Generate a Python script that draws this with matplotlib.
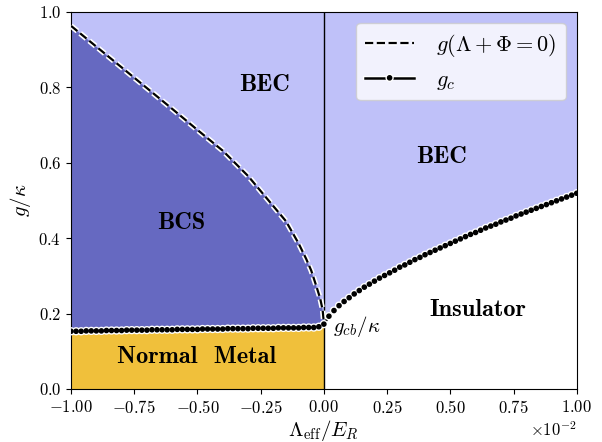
import numpy as np
import matplotlib
matplotlib.use("Agg")
import matplotlib.pyplot as plt
import matplotlib.patheffects as pe

plt.rcParams["font.family"] = "serif"
plt.rcParams["font.serif"] = ["cmr10"]
plt.rcParams["mathtext.fontset"] = "cm"
plt.rcParams["axes.formatter.use_mathtext"] = True

# critical coupling g_c on a grid Lambda_eff/E_R in [-1, 1] (x 1e-2)
gc_x = np.linspace(-1.0, 1.0, 101) * 1e-2
gc_left = [0.153, 0.153, 0.153, 0.154, 0.154, 0.154, 0.154, 0.155, 0.155, 0.155,
           0.155, 0.156, 0.156, 0.156, 0.156, 0.156, 0.157, 0.157, 0.157, 0.157,
           0.157, 0.158, 0.158, 0.158, 0.158, 0.158, 0.159, 0.159, 0.159, 0.159,
           0.159, 0.160, 0.160, 0.160, 0.160, 0.160, 0.161, 0.161, 0.161, 0.161,
           0.161, 0.162, 0.162, 0.162, 0.162, 0.162, 0.163, 0.163, 0.163, 0.165]
gc_right = [0.172, 0.193, 0.208, 0.221, 0.232, 0.242, 0.252, 0.261, 0.270, 0.278,
            0.286, 0.294, 0.301, 0.308, 0.315, 0.323, 0.329, 0.336, 0.343, 0.349,
            0.356, 0.362, 0.368, 0.374, 0.380, 0.386, 0.392, 0.398, 0.404, 0.410,
            0.415, 0.421, 0.427, 0.432, 0.437, 0.443, 0.448, 0.453, 0.459, 0.464,
            0.469, 0.474, 0.479, 0.484, 0.489, 0.494, 0.499, 0.504, 0.509, 0.514,
            0.519]
gc_y = np.array(gc_left + gc_right)

# curve g(Lambda + Phi = 0)
g0_x = np.array([-1.0, -0.9, -0.8, -0.7, -0.6, -0.5, -0.4, -0.3, -0.2, -0.15,
                 -0.1, -0.07, -0.05, -0.03, -0.015, -0.005, 0.0]) * 1e-2
g0_y = np.array([0.963, 0.908, 0.853, 0.798, 0.743, 0.687, 0.632, 0.565, 0.485, 0.445,
                 0.386, 0.345, 0.314, 0.273, 0.241, 0.210, 0.175])

c_bec = "#bfc1f9"
c_bcs = "#6669c1"
c_metal = "#f0c03b"

fig = plt.figure(figsize=(6.02, 4.42), dpi=100)
ax = fig.add_axes([0.118, 0.12, 0.840, 0.853])
ax.set_facecolor(c_bec)

nl = len(gc_left)
xl = gc_x[:nl + 1]
yl = gc_y[:nl + 1]
xr = gc_x[nl:]
yr = gc_y[nl:]

# regions
ax.fill_between(xl, 0, yl, color=c_metal, lw=0, zorder=1)
ax.fill(np.concatenate([xl, g0_x[::-1]]), np.concatenate([yl, g0_y[::-1]]),
        color=c_bcs, lw=0, zorder=1)
ax.fill_between(xr, 0, yr, color="white", lw=0, zorder=1)

ax.axvline(0, color="black", lw=1, zorder=2)

halo = [pe.Stroke(linewidth=4, foreground="white"), pe.Normal()]
ax.plot(g0_x, g0_y, "k--", lw=1.6, path_effects=halo, zorder=3,
        label=r"$g(\Lambda+\Phi=0)$")
ax.plot(gc_x, gc_y, "k-", marker="o", ms=3, lw=1.8, zorder=4,
        path_effects=[pe.Stroke(linewidth=3, foreground="white"), pe.Normal()],
        label=r"$g_c$")

bold = dict(family="cmb10", fontsize=17.5, ha="center", va="center")
ax.text(-0.233e-2, 0.805, "BEC", **bold)
ax.text(0.466e-2, 0.615, "BEC", **bold)
ax.text(-0.565e-2, 0.44, "BCS", **bold)
ax.text(-0.505e-2, 0.085, "Normal  Metal", **bold)
ax.text(0.61e-2, 0.21, "Insulator", **bold)
ax.text(0.035e-2, 0.165, r"$g_{cb}/\kappa$", fontsize=15, ha="left", va="center")

ax.set_xlim(-1e-2, 1e-2)
ax.set_ylim(0, 1)
ax.set_xticks(np.linspace(-1, 1, 9) * 1e-2)
ax.ticklabel_format(axis="x", style="sci", scilimits=(-2, -2))
ax.tick_params(labelsize=12)
ax.xaxis.get_offset_text().set_fontsize(12)
ax.set_xlabel(r"$\Lambda_{\rm eff}/E_R$", fontsize=15, labelpad=2)
ax.set_ylabel(r"$g/\kappa$", fontsize=15)

ax.legend(loc="upper right", fontsize=16, borderaxespad=0.5,
          handlelength=2.2, handletextpad=1.0)

fig.savefig("out.png", dpi=100)
